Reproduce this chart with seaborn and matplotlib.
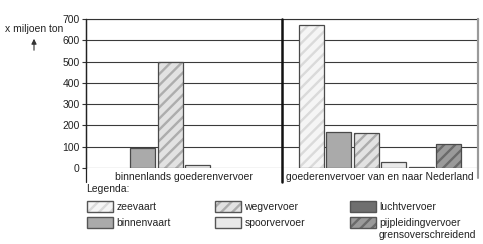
import matplotlib
matplotlib.use("Agg")
import matplotlib.pyplot as plt
from matplotlib.patches import Patch, Rectangle
from matplotlib.legend_handler import HandlerTuple
import seaborn as sns
import pandas as pd

groups = ["binnenlands goederenvervoer", "goederenvervoer van en naar Nederland"]
modes = ["zeevaart", "binnenvaart", "wegvervoer", "spoorvervoer",
         "luchtvervoer", "pijpleidingvervoer"]
extra_line = "grensoverschreidend"
binnenlands = [0, 92, 500, 12, 0, 0]
internationaal = [673, 171, 165, 30, 7, 113]
yticks = [0, 100, 200, 300, 400, 500, 600, 700]

faces = ["#f5f5f5", "#aaaaaa", "#e2e2e2", "#e9e9e9", "#6f6f6f", "#9a9a9a"]
hatches = ["///", "", "///", "", "", "///"]
hatch_cols = ["#dadada", "#aaaaaa", "#adadad", "#e9e9e9", "#6f6f6f", "#6a6a6a"]
edge = "#4a4a4a"

rows = []
for g, vals in zip(groups, [binnenlands, internationaal]):
    for m, v in zip(modes, vals):
        rows.append({"groep": g, "modaliteit": m, "waarde": v})
df = pd.DataFrame(rows)

sns.set_style("white")
plt.rcParams["font.family"] = ["Liberation Sans", "DejaVu Sans"]
plt.rcParams["hatch.linewidth"] = 1.7

fig = plt.figure(figsize=(4.83, 2.44), dpi=100)
ax = fig.add_axes([86 / 483, 1 - 168 / 244, (478 - 86) / 483, (168 - 19) / 244])

sns.barplot(data=df, x="groep", y="waarde", hue="modaliteit", hue_order=modes,
            order=groups, ax=ax, width=0.84, gap=0.09, legend=False,
            linewidth=0, zorder=3)

for i, cont in enumerate(ax.containers):
    for p in cont.patches:
        p.set_facecolor(faces[i])
        p.set_edgecolor(hatch_cols[i])
        p.set_hatch(hatches[i])
        p.set_linewidth(0)
        p.set_zorder(3)
        if p.get_height() > 0:
            ax.add_patch(Rectangle((p.get_x(), p.get_y()), p.get_width(), p.get_height(),
                                   fill=False, ec=edge, lw=0.9, zorder=4))

ax.set_xlim(-0.5, 1.5)
ax.set_ylim(0, 700)
ax.set_yticks(yticks)
ax.set_yticklabels([str(t) for t in yticks], fontsize=7.5, color="#222222")
ax.set_xticks([])
ax.set_xlabel("")
ax.set_ylabel("")
ax.tick_params(axis="y", length=3, width=0.8, color="#333333", pad=1.5, left=True)

for t in yticks:
    ax.axhline(t, color="#3a3a3a", lw=0.8, zorder=1)

ax.spines["bottom"].set_visible(False)
ax.spines["top"].set_color("#333333")
ax.spines["top"].set_linewidth(0.8)
ax.spines["left"].set_color("#222222")
ax.spines["left"].set_linewidth(0.9)
ax.spines["right"].set_color("#9a9a9a")
ax.spines["right"].set_linewidth(1.5)

ax.axvline(-0.5, ymin=-0.095, ymax=1, color="#222222", lw=0.9, clip_on=False, zorder=5)
ax.axvline(0.5, ymin=-0.095, ymax=1, color="#111111", lw=1.8, clip_on=False, zorder=5)
ax.axvline(1.5, ymin=-0.07, ymax=1, color="#9a9a9a", lw=1.5, clip_on=False, zorder=5)

for i, g in enumerate(groups):
    ax.text(i, -0.06, g, transform=ax.get_xaxis_transform(), ha="center", va="center",
            fontsize=7.5, color="#222222")

fig.text(5 / 483, 1 - 29 / 244, "x miljoen ton", fontsize=7.5, color="#222222",
         ha="left", va="center")
fig.add_artist(matplotlib.patches.FancyArrowPatch(
    (34 / 483, 1 - 53 / 244), (34 / 483, 1 - 36 / 244), transform=fig.transFigure,
    arrowstyle="-|>,head_length=3,head_width=1.5", color="#333333", lw=0.8))

fig.text(86 / 483, 1 - 189 / 244, "Legenda:", fontsize=7.5, color="#222222",
         ha="left", va="center")

handles = []
for i in range(len(modes)):
    h1 = Patch(facecolor=faces[i], edgecolor=hatch_cols[i], hatch=hatches[i], linewidth=0)
    h2 = Patch(fill=False, edgecolor="#555555", linewidth=1.0)
    handles.append((h1, h2))

leg = fig.legend(handles, modes, ncol=3, loc="upper left",
                 bbox_to_anchor=(87 / 483, 1 - 200.5 / 244),
                 handler_map={tuple: HandlerTuple(ndivide=1, pad=0)},
                 frameon=False, fontsize=7.5, handlelength=2.5, handleheight=1.34,
                 handletextpad=0.3, columnspacing=4.3, labelspacing=0.45,
                 borderpad=0, borderaxespad=0)
for t in leg.get_texts():
    t.set_color("#222222")

# second line of the last legend label, placed right under it
fig.canvas.draw()
last = leg.get_texts()[-1]
bb = last.get_window_extent(fig.canvas.get_renderer()).transformed(fig.transFigure.inverted())
fig.text(bb.x0, bb.y0 - 1.5 / 244, extra_line, fontsize=7.5, color="#222222",
         ha="left", va="top")

fig.savefig("out.png", dpi=100)
